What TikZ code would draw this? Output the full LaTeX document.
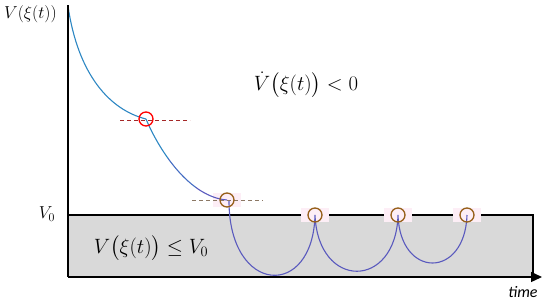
\documentclass[tikz,border=0pt]{standalone}
\usepackage{fontspec}
\usepackage{amsmath}
\newfontfamily\timefont{Carlito}
\usetikzlibrary{arrows.meta}
\definecolor{curveblue}{RGB}{45,135,195}
\definecolor{curvemid}{RGB}{70,110,195}
\definecolor{curvepurple}{RGB}{90,90,190}
\definecolor{circbrown}{RGB}{150,95,25}
\definecolor{dashred}{RGB}{165,40,40}
\definecolor{dashbrown}{RGB}{140,120,100}
\definecolor{boxgray}{RGB}{217,217,217}
\definecolor{glowpink}{RGB}{253,238,246}
\tikzset{
  axisline/.style={line width=1.3pt, black},
  curveline/.style={line width=1.1pt},
  mark circ/.style={line width=1.3pt},
  dashline/.style={line width=0.9pt, dash pattern=on 4pt off 3pt},
  glow/.style={fill=glowpink, draw=none},
}
\begin{document}
\begin{tikzpicture}[x=1pt,y=-1pt]
\useasboundingbox (0,0) rectangle (550,306);
% gray region
\fill[boxgray] (68,215) rectangle (533,277);
\draw[axisline] (68,215) -- (533,215) -- (533,277);
% glows
\foreach \cx/\cy in {227/200,315/215,398/215,467/215}
  \fill[glow] (\cx-14,\cy-7) rectangle (\cx+14,\cy+7);
% dashed lines
\draw[dashline, dashred] (120,120) -- (190,120);
\draw[dashline, dashbrown] (192,200) -- (263,200);
% curve 1
\draw[curveline, curveblue] (68,6) .. controls (78,75) and (110,110) .. (146,119);
% curve 2 with colour change
\begin{scope}
\clip (140,100) rectangle (168,230);
\draw[curveline, curveblue] (146,119) .. controls (160,152) and (190,197) .. (227,200);
\end{scope}
\begin{scope}
\clip (168,100) rectangle (196,230);
\draw[curveline, curvemid] (146,119) .. controls (160,152) and (190,197) .. (227,200);
\end{scope}
\begin{scope}
\clip (196,100) rectangle (240,230);
\draw[curveline, curvepurple] (146,119) .. controls (160,152) and (190,197) .. (227,200);
\end{scope}
% loops
\draw[curveline, curvepurple] (229,201) .. controls (229,295) and (313,300) .. (315,215)
  .. controls (318,290) and (396,290) .. (398,215)
  .. controls (400,279) and (465,279) .. (467,215);
% axes
\draw[axisline] (68,5) -- (68,277);
\draw[axisline, -{Triangle[length=11pt,width=10pt]}] (68,277) -- (542,277);
% circles
\node[circle, draw=red, mark circ, minimum size=14pt, inner sep=0pt] (c1) at (146,119) {};
\foreach \cx/\cy/\nm in {227/200/c2,315/215/c3,398/215/c4,467/215/c5}
  \node[circle, draw=circbrown, mark circ, minimum size=14pt, inner sep=0pt] (\nm) at (\cx,\cy) {};
% labels
\node[anchor=west, inner sep=0pt, font=\fontsize{18}{20}\selectfont] (ylab) at (4,14) {$V(\xi(t))$};
\node[inner sep=0pt, font=\fontsize{17}{19}\selectfont] (v0) at (47,214) {$V_0$};
\node[inner sep=0pt, font=\fontsize{16}{18}\selectfont\timefont\itshape] (tlab) at (523,292) {time};
\node[inner sep=0pt, font=\fontsize{22}{26}\selectfont] (vdot) at (306,85) {$\dot V\bigl(\xi(t)\bigr) < 0$};
\node[inner sep=0pt, font=\fontsize{21}{25}\selectfont] (vle) at (151,248) {$V\bigl(\xi(t)\bigr) \le V_0$};
\end{tikzpicture}
\end{document}
